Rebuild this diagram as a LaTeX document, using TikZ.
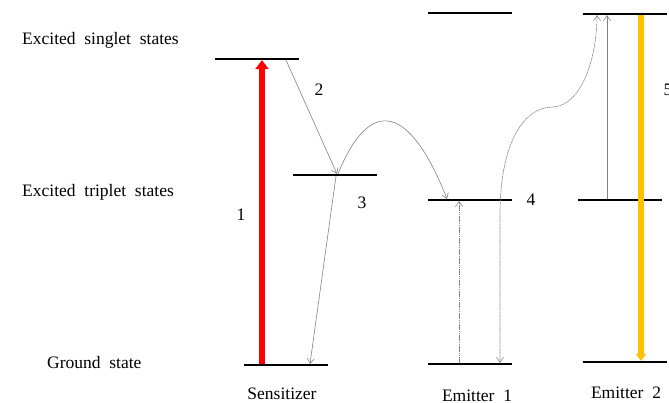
\documentclass[tikz,border=0pt]{standalone}
\usepackage{fontspec}
\setmainfont{Liberation Serif}
\definecolor{pump}{RGB}{255,0,0}
\definecolor{glow}{RGB}{255,192,0}
\definecolor{trace}{RGB}{130,130,130}
\newcommand\tagfont{\fontsize{17.5}{20}\selectfont\spaceskip=0.5em\relax}
\usetikzlibrary{arrows.meta,positioning,calc}

\begin{document}
\begin{tikzpicture}[x=1pt,y=-1pt,
    level/.style={fill=black,minimum width=84pt,minimum height=1.8pt,inner sep=0pt},
    tag/.style={font=\tagfont,inner sep=0pt},
    flow/.style={trace,line width=0.6pt,-{Straight Barb[length=5pt,width=7pt]}},
    faint/.style={flow,dash pattern=on 1.6pt off 0.6pt}]
  \useasboundingbox (0,0) rectangle (669,403);
  % energy levels
  \node[level] (sensS) at (257,59) {};
  \node[level] (sensT) at (335,175) {};
  \node[level] (sensG) at (286,365) {};
  \node[level] (emaS) at (470,13) {};
  \node[level] (emaT) at (470,200) {};
  \node[level] (emaG) at (470,364) {};
  \node[level] (embS) at (625,14) {};
  \node[level] (embT) at (620,200) {};
  \node[level] (embG) at (625,362) {};
  % row and column labels
  \node[tag,anchor=base west] (singlet) at (22,45) {Excited singlet states};
  \node[tag,anchor=base west] (triplet) at (22,197) {Excited triplet states};
  \node[tag,anchor=base west] (ground) at (47,368) {Ground state};
  \node[tag] (sens) at (282,394) {Sensitizer};
  \node[tag] (ema) at (477,396) {Emitter 1};
  \node[tag] (emb) at (626,393) {Emitter 2};
  \node[tag] (step1) at (241,215) {1};
  \node[tag] (step2) at (319,90) {2};
  \node[tag] (step3) at (362,203) {3};
  \node[tag] (step4) at (531,200) {4};
  \node[tag] (step5) at (668,90) {5};
  % transitions
  \draw[pump,line width=6.5pt,-{Triangle[length=9pt,width=13pt]}]
    ([xshift=-24pt]sensG.north) -- ([xshift=5pt]sensS.south);
  \draw[flow] ([xshift=29pt]sensS.south) -- ([xshift=2pt]sensT.north);
  \draw[flow] ([xshift=3pt]sensT.north) .. controls (370,95) and (410,105) .. ([xshift=-23pt]emaT.north);
  \draw[flow] ([xshift=1pt]sensT.south) -- ([xshift=24pt]sensG.north);
  \draw[faint] ([xshift=-11pt]emaG.north) -- ([xshift=-11pt]emaT.south);
  \draw[faint,{Straight Barb[length=5pt,width=7pt]}-{Straight Barb[length=5pt,width=7pt]}]
    ([xshift=30pt]emaG.north) -- ++(0,-148)
    .. controls (500,140) and (525,107) .. (553,107)
    .. controls (583,105) and (597,55) .. ([xshift=-28pt]embS.south);
  \draw[flow] ([xshift=-13pt]embT.north) -- ([xshift=-18pt]embS.south);
  \draw[glow,line width=5.5pt,-{Triangle[length=7pt,width=10pt]}]
    ([xshift=16pt]embS.south) -- ([xshift=16pt]embG.north);
\end{tikzpicture}
\end{document}
